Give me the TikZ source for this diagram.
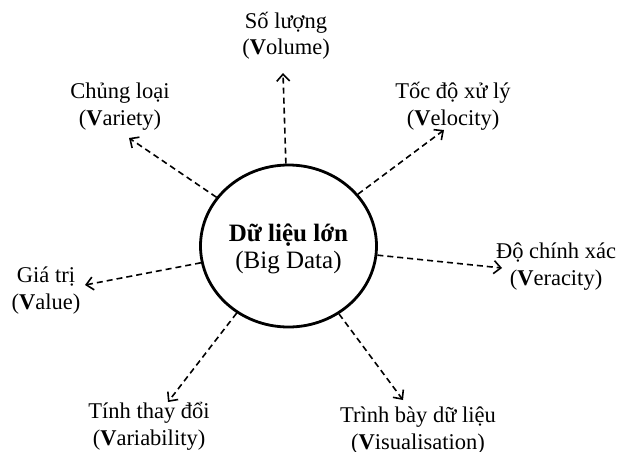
\documentclass[tikz,border=0pt]{standalone}
\usepackage{fontspec}
\setmainfont{Liberation Serif}
\usetikzlibrary{arrows.meta,shapes.geometric}
\begin{document}
\begin{tikzpicture}[x=1pt,y=-1pt,
  lbl/.style={align=center,anchor=base,inner sep=0pt,font=\fontsize{22.5}{26.5}\selectfont},
  link/.style={line width=1.6pt,dash pattern=on 6pt off 4pt,-{Straight Barb[length=7pt,width=13pt,line width=1.6pt]}},
  core/.style={draw,line width=2.8pt,ellipse,minimum width=176pt,minimum height=162pt,inner sep=0pt}]
\useasboundingbox (0,0) rectangle (618,452);
\node[core] (c) at (288.5,246) {};
\node[lbl] (ct) at (288.5,268) {\fontsize{25}{26.5}\selectfont\textbf{Dữ liệu lớn}\\\fontsize{25}{26.5}\selectfont(Big Data)};
\node[lbl] (vol) at (286,55) {Số lượng\\(\textbf{V}olume)};
\node[lbl] (var) at (120,125) {Chủng loại\\(\textbf{V}ariety)};
\node[lbl] (vel) at (453,125) {Tốc độ xử lý\\(\textbf{V}elocity)};
\node[lbl] (ver) at (556,285) {Độ chính xác\\(\textbf{V}eracity)};
\node[lbl] (val) at (46,309) {Giá trị\\(\textbf{V}alue)};
\node[lbl] (vab) at (149,445) {Tính thay đổi\\(\textbf{V}ariability)};
\node[lbl] (vis) at (418,449) {Trình bày dữ liệu\\(\textbf{V}isualisation)};
\coordinate (tvol) at (283,73);
\coordinate (tvar) at (129,138);
\coordinate (tvel) at (444,130);
\coordinate (tver) at (502,268);
\coordinate (tval) at (85,285);
\coordinate (tvab) at (168,402);
\coordinate (tvis) at (403,400);
\foreach \t in {tvol,tvar,tvel,tver,tval,tvab,tvis}
  \draw[link] (c) -- (\t);
\end{tikzpicture}
\end{document}
